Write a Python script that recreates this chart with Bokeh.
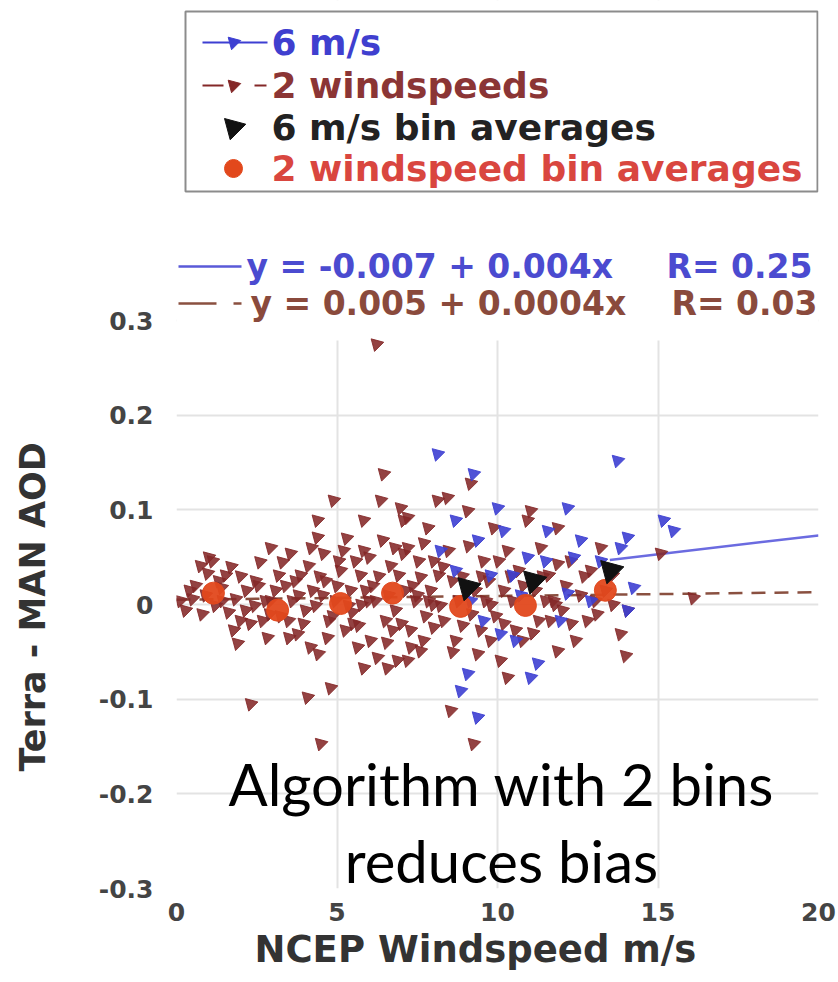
import math
from bokeh.plotting import figure
from bokeh.models import Range1d, FixedTicker, Title
from bokeh.core.properties import value
from bokeh.embed import file_html
from bokeh.resources import INLINE

# ---------------- data ----------------
two_x = [0.12, 0.28, 0.5, 0.75, 0.97, 1.12, 1.31, 1.43, 1.62, 1.78, 1.9, 1.99, 2.18, 2.31, 2.43, 2.55, 2.68, 2.83, 2.93, 2.93, 3.08,
         3.24, 3.4, 3.55, 3.61, 3.77, 3.86, 4.02, 4.08, 4.17, 4.24, 4.39, 4.39, 4.42, 4.49, 4.58, 4.64, 4.74, 4.8, 4.89, 4.95,
         5.11, 5.2, 5.26, 5.42, 5.48, 5.64, 5.73, 5.83, 5.83, 5.83, 5.98, 6.11, 6.23, 6.26, 6.36, 6.45, 6.51, 6.57, 6.67, 6.82,
         6.88, 6.98, 7.07, 7.07, 7.13, 7.2, 7.2, 7.2, 7.29, 7.45, 7.6, 7.6, 7.76, 7.83, 7.91, 8.01, 8.01, 8.13, 8.22, 8.44, 8.54,
         8.6, 8.69, 9.07, 9.16, 9.25, 9.38, 9.56, 9.63, 9.88, 9.94, 10.09, 10.19, 10.31, 10.31, 10.56, 10.93, 11.03, 11.34, 11.5,
         11.65, 11.87, 11.87, 11.87, 12.12, 12.43, 12.8, 13.05, 13.21, 13.83, 14.05, 13.99, 15.08, 16.1,
         0.59, 0.9, 1.21, 1.53, 1.84, 2.15, 2.46, 2.77, 3.18, 3.49, 3.8, 4.11, 4.33, 4.55, 4.86, 5.05, 5.36, 5.58, 5.67, 5.89,
         6.04, 6.2, 6.42, 6.6, 6.73, 6.92, 7.35, 7.54, 7.69, 7.85, 8.16, 8.32, 8.47, 8.79, 8.91, 9.1, 9.31, 9.47, 9.72, 9.78,
         10.03, 10.47, 10.65, 10.78, 11.18, 11.28, 11.59, 11.74, 12.02, 12.27, 12.59, 12.9, 13.36, 13.58,
         0.4, 0.8, 1.0, 1.4, 1.7, 2.0, 2.3, 2.6, 2.9, 3.3, 3.5, 3.7, 3.95, 4.2, 4.45, 4.7, 5.0, 5.3, 5.5, 5.75, 6.0, 6.3, 6.55,
         6.8, 7.0, 7.3, 7.5, 7.7, 8.0, 8.3, 8.6, 8.9, 9.2, 9.5, 9.8, 10.2, 10.4, 10.8, 11.1, 11.4, 11.8, 12.3, 12.7, 13.1, 13.6]
two_y = [0.004, -0.006, 0.006, 0.041, 0.033, 0.046, 0.025, 0.004, -0.008, -0.027, -0.041, -0.017, 0.015, -0.105, -0.001, 0.020, -0.017, -0.035, 0.060, 0.004, 0.015,
         -0.012, 0.02, 0.054, 0.004, -0.031, 0.031, -0.006, -0.098, -0.045, 0.015, 0.071, 0.089, -0.052, -0.147, 0.054, 0.025, -0.017, -0.088, 0.11, 0.004,
         0.036, 0.057, -0.027, 0.015, -0.008, -0.045, 0.031, 0.089, 0.057, -0.067, 0.004, 0.020, 0.275, -0.056, 0.11, 0.138, -0.017, -0.067, 0.041, -0.006,
         -0.059, 0.102, 0.089, 0.054, 0.015, 0.092, 0.06, -0.059, -0.027, 0.004, 0.029, -0.049, -0.012, 0.081, 0.015, 0.046, -0.024, 0.11, -0.001, 0.113, -0.112,
         0.025, -0.038, 0.099, 0.128, -0.147, -0.052, 0.046, 0.004, 0.081, -0.012, -0.059, 0.015, 0.057, -0.077, -0.027, 0.089, 0.099, 0.06, 0.004,
         -0.017, 0.081, 0.043, -0.049, 0.02, -0.038, -0.017, 0.004, 0.06, -0.031, -0.006, -0.054, 0.054, 0.007,
         0.02, 0.01, -0.001, 0.031, 0.006, -0.006, 0.025, 0.004, 0.031, -0.017, 0.01, 0.041, -0.001, 0.01, -0.012, 0.046, -0.001, 0.046, -0.022, 0.015,
         -0.038, 0.004, 0.068, 0.01, -0.027, 0.031, 0.02, 0.046, -0.038, 0.004, 0.031, -0.017, 0.057, 0.004, -0.022, 0.062, 0.015, -0.027, 0.025, -0.038,
         0.046, 0.004, 0.036, -0.038, 0.015, -0.017, 0.031, 0.004, -0.006, 0.046, 0.01, 0.036, 0.015, 0.031,
         0.015, -0.01, 0.05, 0.018, 0.04, 0.03, -0.02, 0.045, -0.01, 0.045, -0.035, 0.025, -0.02, 0.06, 0.03, -0.035, 0.02, 0.07, -0.02, 0.0, 0.05, 0.03, -0.04,
         0.06, -0.02, -0.045, 0.01, 0.065, 0.0, 0.04, -0.05, 0.03, -0.01, 0.03, 0.0, -0.02, 0.03, 0.02, -0.03, 0.03, 0.0, -0.02, 0.03, -0.01, 0.0]

ms6_x = [8.13, 9.25, 13.74, 10.0, 12.18, 10.19, 11.56, 14.05, 13.83, 15.17, 15.48, 8.22, 9.38, 10.93, 12.37, 14.24, 12.18, 14.05,
         9.56, 10.09, 9.07, 8.85, 9.38, 11.25, 11.03, 8.69, 9.78, 10.47, 11.5, 11.96, 12.9, 10.72, 9.16, 13.21, 12.59, 8.69, 10.56]
ms6_y = [0.159, 0.138, 0.152, 0.102, 0.102, 0.078, 0.078, 0.071, 0.06, 0.089, 0.078, 0.057, 0.068, 0.05, 0.05, 0.018, 0.012, -0.006,
         -0.017, -0.031, -0.073, -0.091, -0.119, -0.062, -0.077, 0.036, 0.031, 0.031, 0.046, -0.017, 0.004, 0.01, 0.004, 0.046, 0.068, 0.089, -0.038]

bin6_x = [9.07, 11.12, 13.52]
bin6_y = [0.018, 0.025, 0.036]
bin2_x = [1.15, 3.15, 5.11, 6.73, 8.85, 10.87, 13.36]
bin2_y = [0.012, -0.006, 0.001, 0.012, -0.002, -0.001, 0.015]

fit6_intercept, fit6_slope, fit6_x = -0.007, 0.004, [13.5, 20.0]
fit2_intercept, fit2_slope, fit2_x = 0.005, 0.0004, [0.0, 20.0]

legend_labels = ["6 m/s", "2 windspeeds", "6 m/s bin averages", "2 windspeed bin averages"]
fit_labels = ["y = -0.007 + 0.004x", "y = 0.005 + 0.0004x"]
r_labels = ["R= 0.25", "R= 0.03"]
note_lines = ["Algorithm with 2 bins", "reduces bias"]
x_ticks = [0, 5, 10, 15, 20]
y_ticks = [-0.3, -0.2, -0.1, 0, 0.1, 0.2, 0.3]
y_tick_labels = ["-0.3", "-0.2", "-0.1", "0", "0.1", "0.2", "0.3"]
x_title = "NCEP Windspeed m/s"
y_title = "Terra - MAN AOD"

# ---------------- styling / layout ----------------
BLUE = "#3d3fd2"
BROWN = "#842828"
ORANGE = "#e2481c"
BLACK = "#111111"
FONT = "DejaVu Sans"

W, H = 838, 982
FL, FR, FB = 176, 818, 888          # frame left, right, bottom (pixels)
Y03 = 320                            # pixel row of y = 0.3
XPX = (FR - FL) / 20.0
YPX = (FB - Y03) / 0.6


def X(px):
    return (px - FL) / XPX


def Y(py):
    return 0.3 - (py - Y03) / YPX


p = figure(width=W, height=H, x_range=Range1d(0, 20), y_range=Range1d(-0.3, Y(0)),
           output_backend="svg", toolbar_location=None, title=None,
           min_border_left=FL, min_border_right=W - FR, min_border_top=0, min_border_bottom=H - FB)
p.outline_line_color = None
p.background_fill_color = "white"
p.border_fill_color = "white"

for g, t in ((p.xgrid, x_ticks), (p.ygrid, y_ticks)):
    g.ticker = FixedTicker(ticks=t)
    g.grid_line_color = "#e3e3e3"
    g.grid_line_width = 2

p.xaxis.ticker = FixedTicker(ticks=x_ticks)
p.yaxis.ticker = FixedTicker(ticks=y_ticks)
p.yaxis.major_label_overrides = {t: l for t, l in zip(y_ticks, y_tick_labels)}
for ax in (p.xaxis, p.yaxis):
    ax.axis_line_color = None
    ax.major_tick_line_color = None
    ax.minor_tick_line_color = None
    ax.major_label_text_font = FONT
    ax.major_label_text_font_style = "bold"
    ax.major_label_text_font_size = "25px"
    ax.major_label_text_color = "#444444"
p.yaxis.major_label_standoff = 17
p.xaxis.major_label_standoff = 8
# blank spacer label so that the y title sits near the left edge
p.yaxis.axis_label = " "
p.yaxis.axis_label_text_font_size = "2px"
p.yaxis.axis_label_standoff = 25

p.add_layout(Title(text=x_title, align="left", offset=254 - FL, vertical_align="top", standoff=8,
                   text_font=FONT, text_font_style="bold", text_font_size="37px",
                   text_color="#333333"), "below")
p.add_layout(Title(text=y_title, align="left", offset=117, vertical_align="middle", standoff=23,
                   text_font=FONT, text_font_style="bold", text_font_size="35px",
                   text_color="#333333"), "left")

# white area above the plot (hides grid lines there)
p.quad(left=0, right=20, bottom=Y(340), top=Y(0), fill_color="white", line_color=None)

# fit lines
p.line(fit6_x, [fit6_intercept + fit6_slope * x for x in fit6_x], line_color="#6b6be0", line_width=2.5)
p.line(fit2_x, [fit2_intercept + fit2_slope * x for x in fit2_x], line_color="#8a5040", line_width=2.5,
       line_dash="14 9")

# scatter points
ANG = math.pi / 4
p.scatter(two_x, two_y, marker="triangle", size=13, angle=ANG, fill_color=BROWN, line_color=BROWN, alpha=0.88)
p.scatter(ms6_x, ms6_y, marker="triangle", size=13, angle=ANG, fill_color=BLUE, line_color=BLUE, alpha=0.9)
p.scatter(bin2_x, bin2_y, marker="circle", size=22, fill_color=ORANGE, line_color=ORANGE, alpha=0.95)
p.scatter(bin6_x, bin6_y, marker="triangle", size=24, angle=ANG, fill_color=BLACK, line_color=BLACK)

# ---------------- top legend box ----------------
rows = [42, 85, 127, 168]
p.quad(left=X(185), right=X(817), top=Y(11), bottom=Y(191), fill_color="white",
       line_color="#8c8c8c", line_width=2)
p.line([X(202), X(267)], [Y(rows[0])] * 2, line_color=BLUE, line_width=2)
p.scatter([X(233)], [Y(rows[0])], marker="triangle", size=13, angle=ANG, color=BLUE)
p.line([X(202), X(266)], [Y(rows[1])] * 2, line_color=BROWN, line_width=2, line_dash="21 31")
p.scatter([X(233)], [Y(rows[1])], marker="triangle", size=13, angle=ANG, color=BROWN)
p.scatter([X(233)], [Y(rows[2])], marker="triangle", size=22, angle=ANG, color=BLACK)
p.scatter([X(233)], [Y(rows[3])], marker="circle", size=18, color=ORANGE)
p.text(x=[X(271)] * 4, y=[Y(r) for r in rows], text=legend_labels,
       text_color=["#3f3fcf", "#8b3535", "#222222", "#d9463f"],
       text_font=value(FONT), text_font_style="bold", text_font_size="36px", text_baseline="middle")

# ---------------- regression legend ----------------
reg_rows = [266, 303]
p.line([X(178), X(241)], [Y(reg_rows[0])] * 2, line_color="#5a5ad8", line_width=2.5)
p.line([X(178), X(241)], [Y(reg_rows[1])] * 2, line_color="#8a5040", line_width=2.5, line_dash="38 17")
p.text(x=[X(246), X(250)], y=[Y(r) for r in reg_rows], text=fit_labels,
       text_color=["#4b4bd0", "#8a4a3c"], text_font=value(FONT), text_font_style="bold",
       text_font_size="33px", text_baseline="middle")
p.text(x=[X(666), X(671)], y=[Y(r) for r in reg_rows], text=r_labels,
       text_color=["#4b4bd0", "#8a4a3c"], text_font=value(FONT), text_font_style="bold",
       text_font_size="33px", text_baseline="middle")

# ---------------- annotation ----------------
p.text(x=[X(501)] * 2, y=[Y(783), Y(860)], text=note_lines, text_color="black",
       text_font=value("Lato"), text_font_size="58px", text_align="center", text_baseline="alphabetic")

open("out.html", "w").write(file_html(p, INLINE))
